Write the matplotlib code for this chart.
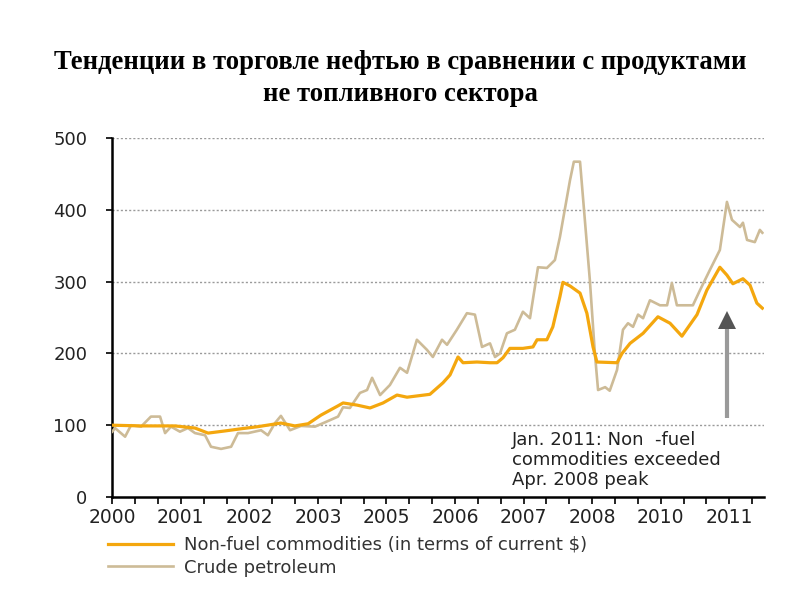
import matplotlib
matplotlib.use("Agg")
import matplotlib.pyplot as plt
from matplotlib.ticker import MultipleLocator

# ---- data (x in axis tick units: 3 minor ticks per label) ----
year_labels = ["2000", "2001", "2002", "2003", "2005", "2006", "2007", "2008", "2010", "2011"]

nonfuel_x = [0.00, 1.26, 2.74, 3.62, 4.19, 4.93, 5.63, 6.38, 7.38, 7.99, 8.57, 9.13, 9.88,
             10.10, 10.71, 11.28, 11.85, 12.46, 12.90, 13.90, 14.47, 14.78, 15.13, 15.35,
             15.96, 16.53, 16.84, 17.10, 17.40, 17.97, 18.41, 18.59, 19.02, 19.28, 19.59,
             19.72, 20.03, 20.47, 20.77, 21.04, 21.21, 22.09, 22.31, 22.66, 23.23, 23.88,
             24.41, 24.93, 25.59, 26.02, 26.59, 26.90, 27.16, 27.60, 27.91, 28.21, 28.45]
nonfuel_y = [100, 99, 99, 96, 89, 92, 95, 98, 103, 99, 102, 114, 127,
             131, 128, 124, 131, 142, 139, 143, 159, 170, 195, 187,
             188, 187, 187, 194, 207, 207, 209, 219, 219, 237, 279,
             299, 294, 284, 256, 209, 188, 187, 200, 214, 228, 251,
             242, 224, 254, 288, 320, 309, 297, 304, 295, 270, 263]

crude_x = [0.00, 0.12, 0.56, 0.82, 1.26, 1.69, 2.09, 2.31, 2.57, 2.96, 3.31, 3.62, 4.06,
           4.32, 4.76, 5.20, 5.50, 5.94, 6.51, 6.81, 7.12, 7.38, 7.78, 8.26, 8.87, 9.31,
           9.88, 10.10, 10.40, 10.84, 11.15, 11.37, 11.72, 12.15, 12.59, 12.90, 13.33,
           13.77, 14.03, 14.43, 14.65, 15.08, 15.52, 15.87, 16.18, 16.53, 16.75, 16.97,
           17.27, 17.62, 17.97, 18.28, 18.63, 19.02, 19.37, 19.59, 20.03, 20.20, 20.47,
           20.90, 21.12, 21.26, 21.57, 21.77, 22.09, 22.35, 22.57, 22.79, 23.01, 23.23,
           23.53, 23.97, 24.28, 24.49, 24.71, 25.41, 25.72, 26.15, 26.59, 26.90, 27.12,
           27.47, 27.60, 27.78, 28.12, 28.34, 28.45]
crude_y = [91, 96, 84, 100, 98, 112, 112, 89, 98, 91, 96, 89, 86,
           70, 67, 70, 89, 89, 93, 86, 103, 113, 93, 99, 98, 104,
           112, 125, 124, 145, 149, 166, 142, 156, 180, 173, 219,
           205, 195, 219, 212, 233, 256, 254, 209, 214, 195, 200,
           228, 233, 258, 249, 320, 319, 330, 362, 441, 467, 467,
           302, 200, 149, 153, 148, 177, 233, 242, 237, 254, 249,
           274, 267, 267, 298, 267, 267, 288, 316, 344, 411, 386,
           376, 382, 358, 355, 372, 368]

arrow_x = 26.9
arrow_from = 110
arrow_to = 255

title = "Тенденции в торговле нефтью в сравнении с продуктами\nне топливного сектора"
annotation = "Jan. 2011: Non  -fuel\ncommodities exceeded\nApr. 2008 peak"
series_names = ["Non-fuel commodities (in terms of current $)", "Crude petroleum"]

ORANGE = "#F4A70E"
TAN = "#CDBB97"
TXT = "#222222"

fig = plt.figure(figsize=(8, 6), dpi=100)
ax = fig.add_axes([112.3 / 800, 1 - 497 / 600, (763.5 - 112.3) / 800, (497 - 138) / 600])

ax.set_xlim(0, 28.5)
ax.set_ylim(0, 500)

for v in [100, 200, 300, 400, 500]:
    ax.axhline(v, color="#9a9a9a", lw=1.0, ls=(0, (1.5, 1.5)), zorder=1)

l2, = ax.plot(crude_x, crude_y, color=TAN, lw=1.9, zorder=3)
l1, = ax.plot(nonfuel_x, nonfuel_y, color=ORANGE, lw=2.3, zorder=4)

# arrow: grey shaft with dark triangular head
ax.plot([arrow_x, arrow_x], [arrow_from, arrow_to - 14], color="#9a9a9a", lw=3.0,
        solid_capstyle="butt", zorder=5)
ax.plot([arrow_x], [arrow_to - 8], marker="^", color="#555555", ms=13, mew=0, zorder=6)

ax.text(17.5, 92, annotation, ha="left", va="top", fontsize=13, color=TXT,
        family="DejaVu Sans", linespacing=1.13, clip_on=False, zorder=6)

for s in ["top", "right"]:
    ax.spines[s].set_visible(False)
ax.spines["left"].set_linewidth(1.8)
ax.spines["bottom"].set_linewidth(1.8)

ax.set_yticks([0, 100, 200, 300, 400, 500])
ax.tick_params(axis="y", length=4, width=1.2, pad=14, labelsize=13, labelcolor=TXT)
ax.xaxis.set_minor_locator(MultipleLocator(1))
ax.set_xticks([3 * i for i in range(len(year_labels))])
ax.set_xticklabels(year_labels)
ax.tick_params(axis="x", which="both", length=5, width=1.2, direction="out",
               labelsize=13.5, labelcolor=TXT, pad=3)
for lab in ax.get_xticklabels() + ax.get_yticklabels():
    lab.set_family("DejaVu Sans")

fig.text(0.5, 1 - 78.5 / 600, title, ha="center", va="center", fontsize=19.2,
         fontweight="bold", family="Liberation Serif", linespacing=1.4)

leg = fig.legend([l1, l2], series_names, loc="upper left",
                 bbox_to_anchor=(108 / 800, 1 - 536 / 600), frameon=False,
                 prop={"family": "DejaVu Sans", "size": 13}, handlelength=3.6,
                 handletextpad=0.6, labelspacing=0.25, borderpad=0, borderaxespad=0)
for t in leg.get_texts():
    t.set_color("#333333")

fig.savefig("out.png", dpi=100)
